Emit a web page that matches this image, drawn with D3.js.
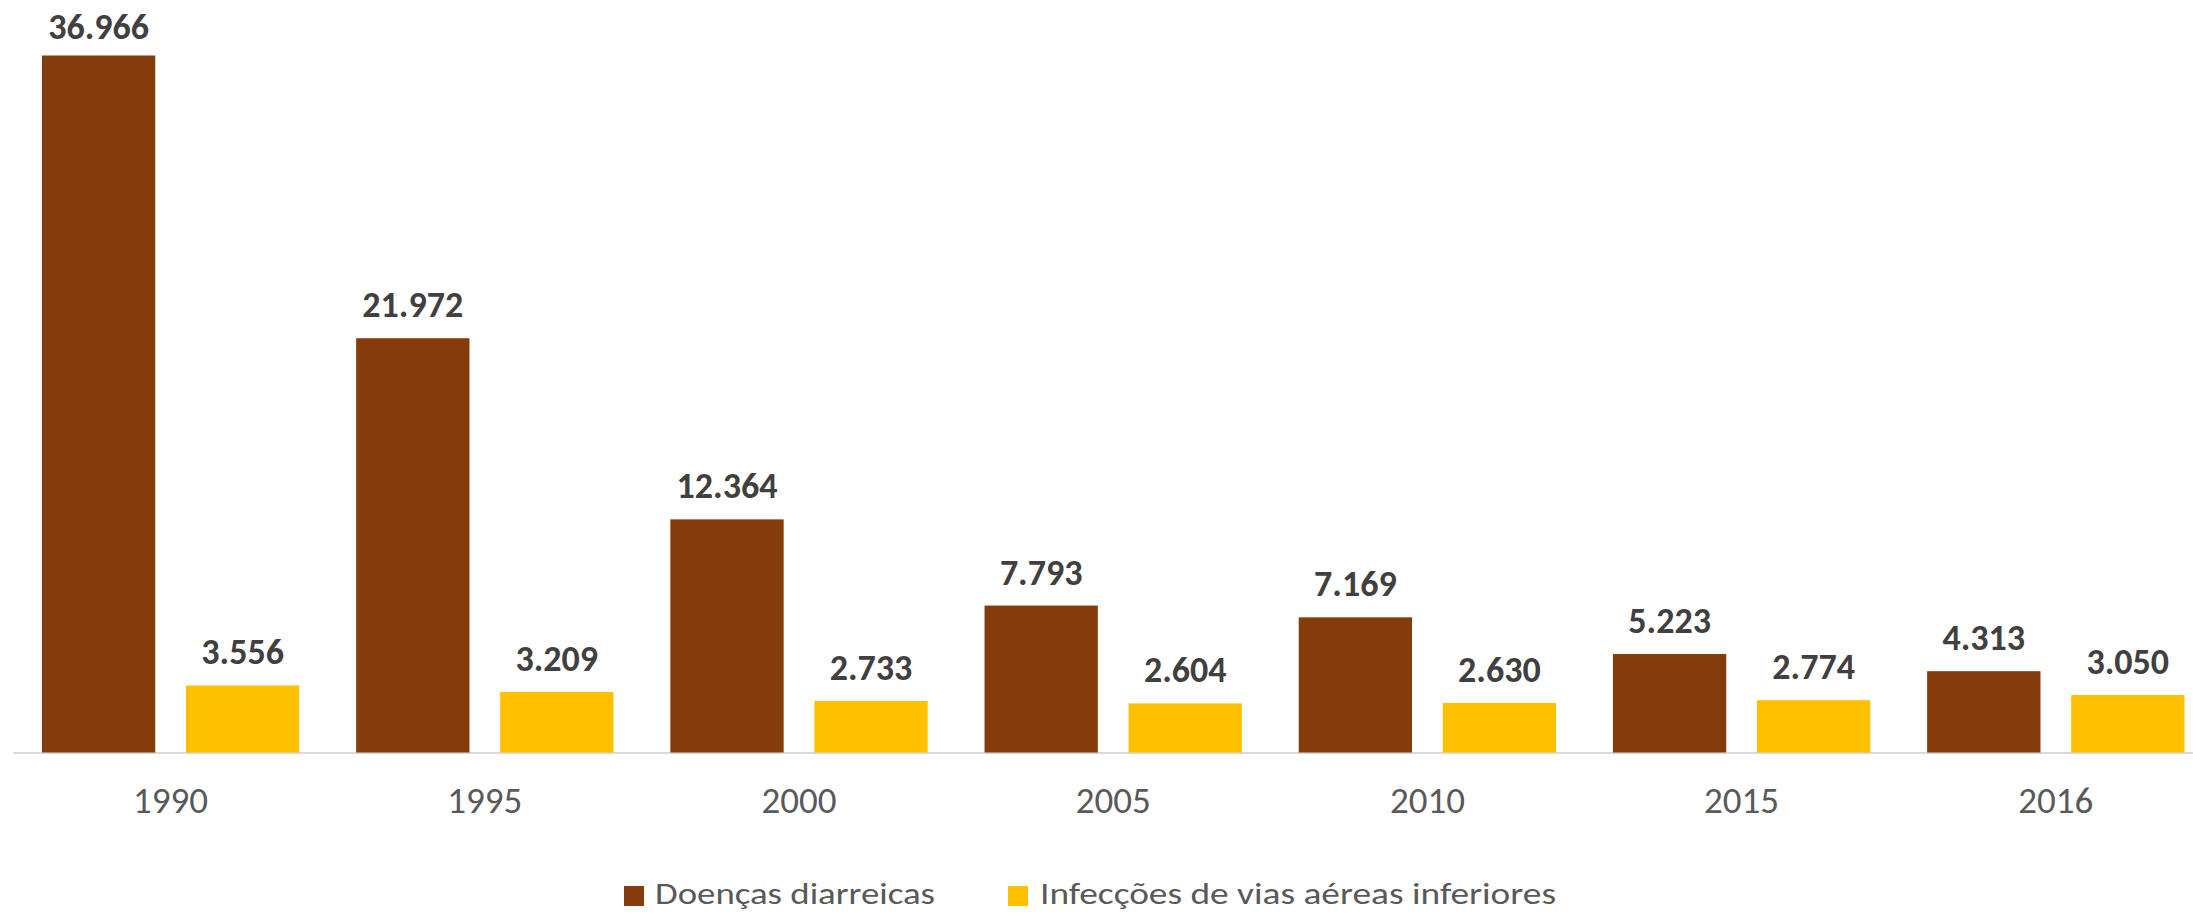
<!DOCTYPE html>
<html>
<head>
<meta charset="utf-8">
<script src="https://cdn.jsdelivr.net/npm/d3@7"></script>
<style>
  html, body { margin: 0; padding: 0; background: #ffffff; }
  svg { display: block; }
</style>
</head>
<body>
<svg id="chart" width="2193" height="914"></svg>
<script>
// Óbitos por ano: doenças diarreicas vs. infecções de vias aéreas inferiores
const years = ["1990", "1995", "2000", "2005", "2010", "2015", "2016"];
const seriesNames = ["Doenças diarreicas", "Infecções de vias aéreas inferiores"];
const diarreicas = [36966, 21972, 12364, 7793, 7169, 5223, 4313];
const viasAereas = [3556, 3209, 2733, 2604, 2630, 2774, 3050];
const seriesColors = ["#843C0C", "#FFC000"];

const fmt = d3.formatLocale({ decimal: ",", thousands: ".", grouping: [3], currency: ["R$", ""] }).format(",d");

const svg = d3.select("#chart");
const font = "Carlito, Calibri, Lato, 'Noto Sans', sans-serif";

const baseY = 752.5;
const x0 = d3.scaleBand()
  .domain(years)
  .range([13.5, 2212.9])
  .paddingInner(0.181)
  .paddingOuter(0.0905);

const x1 = d3.scaleBand()
  .domain(seriesNames)
  .range([0, x0.bandwidth()])
  .paddingInner(0.2132)
  .paddingOuter(0);

const y = d3.scaleLinear()
  .domain([0, 40000])
  .range([baseY, baseY - 40000 * 0.018855]);

const rows = years.map((yr, i) => ({
  year: yr,
  values: [
    { key: seriesNames[0], value: diarreicas[i], color: seriesColors[0] },
    { key: seriesNames[1], value: viasAereas[i], color: seriesColors[1] }
  ]
}));

// horizontal category axis
const xAxis = svg.append("g")
  .attr("transform", `translate(0,${baseY})`)
  .call(d3.axisBottom(x0).tickSize(0));
xAxis.select(".domain").remove();
xAxis.selectAll("text")
  .attr("dy", null)
  .attr("y", 60)
  .style("font-family", font)
  .style("font-size", "37px")
  .attr("fill", "#595959");

svg.append("line")
  .attr("x1", x0.range()[0]).attr("x2", x0.range()[1])
  .attr("y1", baseY + 0.5).attr("y2", baseY + 0.5)
  .attr("stroke", "#d9d9d9")
  .attr("stroke-width", 2);

const groups = svg.append("g").selectAll("g")
  .data(rows)
  .join("g")
  .attr("transform", d => `translate(${x0(d.year)},0)`);

groups.selectAll("rect")
  .data(d => d.values)
  .join("rect")
  .attr("x", d => x1(d.key))
  .attr("width", x1.bandwidth())
  .attr("y", d => y(d.value))
  .attr("height", d => baseY - y(d.value))
  .attr("fill", d => d.color);

groups.selectAll("text.val")
  .data(d => d.values)
  .join("text")
  .attr("class", "val")
  .attr("x", d => x1(d.key) + x1.bandwidth() / 2)
  .attr("y", d => Math.max(y(d.value) - 21, 38.5))
  .attr("text-anchor", "middle")
  .style("font-family", font)
  .style("font-size", "36px")
  .style("font-weight", "bold")
  .attr("fill", "#404040")
  .text(d => fmt(d.value));

// legend
const legendPos = [{ sq: 624, tx: 655, w: 280 }, { sq: 1008, tx: 1040, w: 516 }];
const legend = svg.append("g").selectAll("g")
  .data(seriesNames)
  .join("g");
legend.append("rect")
  .attr("x", (d, i) => legendPos[i].sq)
  .attr("y", 886)
  .attr("width", 20)
  .attr("height", 20)
  .attr("fill", (d, i) => seriesColors[i]);
legend.append("text")
  .attr("x", (d, i) => legendPos[i].tx)
  .attr("y", 904)
  .attr("textLength", (d, i) => legendPos[i].w)
  .attr("lengthAdjust", "spacingAndGlyphs")
  .style("font-family", font)
  .style("font-size", "31px")
  .attr("fill", "#595959")
  .text(d => d);
</script>
</body>
</html>
